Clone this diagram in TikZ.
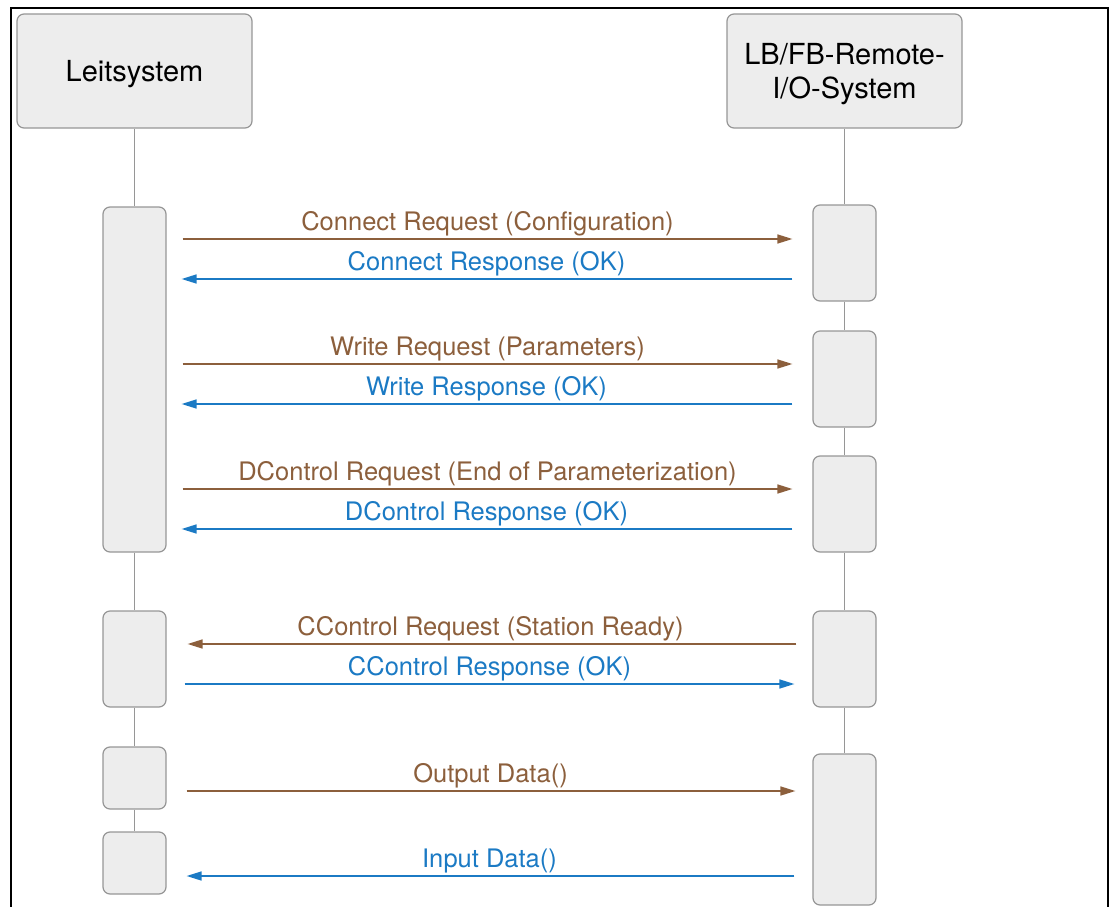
\documentclass[tikz,border=0pt]{standalone}
\usepackage{fontspec}
\setmainfont{TeX Gyre Heros}
\usetikzlibrary{arrows.meta, positioning}

\definecolor{reqbrown}{RGB}{140,95,60}
\definecolor{respblue}{RGB}{27,122,196}
\definecolor{boxgray}{RGB}{237,237,237}
\definecolor{linegray}{RGB}{150,150,150}

\begin{document}
\begin{tikzpicture}[
    x=1pt, y=-1pt,
    actor/.style={rectangle, rounded corners=7pt, minimum width=235pt, minimum height=114pt, align=center, text depth=0pt, draw=linegray, fill=boxgray, line width=1.2pt, font=\fontsize{29}{34}\selectfont},
    act/.style={rectangle, rounded corners=7pt, minimum width=63pt, inner sep=0pt, draw=linegray, fill=boxgray, line width=1.2pt},
    life/.style={draw=linegray, line width=1.2pt},
    request/.style={-{Triangle[length=15pt, width=9pt]}, color=reqbrown, line width=1.5pt, shorten <=16pt, shorten >=20pt},
    response/.style={request, color=respblue},
    msg/.style={midway, above, inner sep=2.5pt, font=\fontsize{25.5}{30}\selectfont}
]
\useasboundingbox (0,0) rectangle (1112,907);

% Frame
\draw[line width=1.5pt] (11,907) -- (11,8) -- (1108,8) -- (1108,907);

% Nodes
\node (leit) [actor] at (134.5,71) {Leitsystem};
\node (remote) [actor] at (844.5,71) {LB/FB-Remote-\\I/O-System};

\node (L1) [act, minimum height=345pt] at (134.5,379.5) {};
\node (L2) [act, minimum height=96pt] at (134.5,659) {};
\node (L3) [act, minimum height=62pt] at (134.5,778) {};
\node (L4) [act, minimum height=62pt] at (134.5,863) {};

\node (R1) [act, minimum height=96pt] at (844.5,253) {};
\node (R2) [act, minimum height=96pt] at (844.5,379) {};
\node (R3) [act, minimum height=96pt] at (844.5,504) {};
\node (R4) [act, minimum height=96pt] at (844.5,659) {};
\node (R5) [act, minimum height=151pt] at (844.5,829.5) {};

% Lifelines
\draw [life] (leit) -- (L1);
\draw [life] (L1) -- (L2);
\draw [life] (L2) -- (L3);
\draw [life] (L3) -- (L4);
\draw [life] (remote) -- (R1);
\draw [life] (R1) -- (R2);
\draw [life] (R2) -- (R3);
\draw [life] (R3) -- (R4);
\draw [life] (R4) -- (R5);

% Arrows
\draw [request] (L1.east |- 0,239) -- (R1.west |- 0,239) node[msg, xshift=-2pt] {Connect Request (Configuration)};
\draw [response, shorten <=20pt, shorten >=15pt] (R1.west |- 0,279) -- (L1.east |- 0,279) node[msg, xshift=-3pt] {Connect Response (OK)};
\draw [request] (L1.east |- 0,364) -- (R2.west |- 0,364) node[msg, xshift=-2pt] {Write Request (Parameters)};
\draw [response, shorten <=20pt, shorten >=15pt] (R2.west |- 0,404) -- (L1.east |- 0,404) node[msg, xshift=-3pt] {Write Response (OK)};
\draw [request] (L1.east |- 0,489) -- (R3.west |- 0,489) node[msg, xshift=-2pt] {DControl Request (End of Parameterization)};
\draw [response, shorten <=20pt, shorten >=15pt] (R3.west |- 0,529) -- (L1.east |- 0,529) node[msg, xshift=-3pt] {DControl Response (OK)};
\draw [request, shorten >=21pt] (R4.west |- 0,644) -- (L2.east |- 0,644) node[msg, xshift=1pt] {CControl Request (Station Ready)};
\draw [response, shorten <=18pt, shorten >=18pt] (L2.east |- 0,684) -- (R4.west |- 0,684) node[msg] {CControl Response (OK)};
\draw [request, shorten <=20pt, shorten >=17pt] (L3.east |- 0,791) -- (R5.west |- 0,791) node[msg, xshift=1pt] {Output Data()};
\draw [response, shorten <=18pt, shorten >=20pt] (R5.west |- 0,876) -- (L4.east |- 0,876) node[msg] {Input Data()};

\end{tikzpicture}
\end{document}
